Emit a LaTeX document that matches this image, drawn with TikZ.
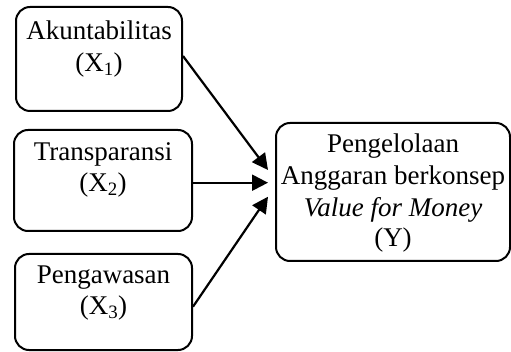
\documentclass[tikz,border=0pt]{standalone}
\usepackage{fontspec}
\setmainfont{Liberation Serif}
\usetikzlibrary{arrows.meta}
\begin{document}
\begin{tikzpicture}[x=1pt,y=-1pt,
  box/.style={draw, line width=2pt, rounded corners=14pt, inner sep=0pt},
  lbl/.style={anchor=base, inner sep=0pt, font=\fontsize{27}{31.7}\selectfont},
  arr/.style={line width=2.2pt, -{Triangle[length=16pt,width=16pt]}}]
\useasboundingbox (0,0) rectangle (511,352);
% boxes
\node[box, minimum width=166pt, minimum height=104pt] (b1) at (99,59) {};
\node[box, minimum width=178pt, minimum height=101pt] (b2) at (103,180.5) {};
\node[box, minimum width=177pt, minimum height=96pt] (b3) at (103.5,302) {};
\node[box, minimum width=234pt, minimum height=138pt] (y) at (393,192) {};
% texts
\node[lbl] (t1a) at (99,40) {Akuntabilitas};
\node[lbl] (t1b) at (99,71.7) {(X\textsubscript{1})};
\node[lbl] (t2a) at (103,160.7) {Transparansi};
\node[lbl] (t2b) at (103,191.7) {(X\textsubscript{2})};
\node[lbl] (t3a) at (103.5,283.3) {Pengawasan};
\node[lbl] (t3b) at (103.5,315) {(X\textsubscript{3})};
\node[lbl] (ya) at (393,153) {Pengelolaan};
\node[lbl] (yb) at (393,185) {Anggaran berkonsep};
\node[lbl] (yc) at (393,216.7) {\itshape Value for Money};
\node[lbl] (yd) at (393,247) {(Y)};
% arrow tips
\coordinate (e1) at (268,170);
\coordinate (e2) at (268,182.7);
\coordinate (e3) at (268,196.7);
\draw[arr] (b1.east |- 0,56) -- (e1);
\draw[arr] (b2.east |- 0,182.7) -- (e2);
\draw[arr] (b3.east |- 0,306.7) -- (e3);
\end{tikzpicture}
\end{document}
